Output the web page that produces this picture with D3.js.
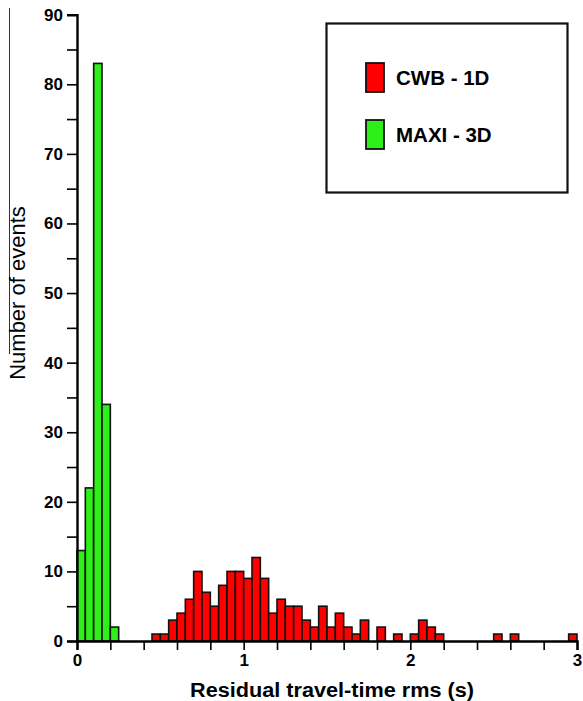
<!DOCTYPE html>
<html>
<head>
<meta charset="utf-8">
<script src="https://cdn.jsdelivr.net/npm/d3@7"></script>
<style>
  html, body { margin: 0; padding: 0; background: #fff; }
  svg { display: block; }
  text { font-family: "Liberation Sans", Arial, Helvetica, sans-serif; fill: #000; }
</style>
</head>
<body>
<svg id="chart" width="583" height="701"></svg>
<script>
// Histogram bin width (s)
const binWidth = 0.05;

// CWB - 1D relocation: left edge of each bin and its event count
const cwbBins   = [0.45, 0.50, 0.55, 0.60, 0.65, 0.70, 0.75, 0.80, 0.85, 0.90,
                   0.95, 1.00, 1.05, 1.10, 1.15, 1.20, 1.25, 1.30, 1.35, 1.40,
                   1.45, 1.50, 1.55, 1.60, 1.65, 1.70, 1.80, 1.90, 2.00, 2.05,
                   2.10, 2.15, 2.50, 2.60, 2.95];
const cwbCounts = [1, 1, 3, 4, 6, 10, 7, 5, 8, 10,
                   10, 9, 12, 9, 4, 6, 5, 5, 3, 2,
                   5, 2, 4, 2, 1, 3, 2, 1, 1, 3,
                   2, 1, 1, 1, 1];

// MAXI - 3D relocation
const maxiBins   = [0.00, 0.05, 0.10, 0.15, 0.20];
const maxiCounts = [13, 22, 83, 34, 2];

// Axis ticks
const xTicks = [0, 0.2, 0.4, 0.6, 0.8, 1, 1.2, 1.4, 1.6, 1.8, 2, 2.2, 2.4, 2.6, 2.8, 3];
const xTickLabels = [0, 1, 2, 3];
const yTicks = [0, 5, 10, 15, 20, 25, 30, 35, 40, 45, 50, 55, 60, 65, 70, 75, 80, 85, 90];
const yTickLabels = [0, 10, 20, 30, 40, 50, 60, 70, 80, 90];

const seriesNames = ["CWB - 1D", "MAXI - 3D"];
const seriesColors = ["#ff0000", "#2def1a"];

const svg = d3.select("#chart");

const x = d3.scaleLinear().domain([0, 3]).range([77, 577]);
const y = d3.scaleLinear().domain([0, 90]).range([641, 14.7]);

// thin frame edge at the far left
svg.append("line")
  .attr("x1", 9.5).attr("x2", 9.5).attr("y1", 8).attr("y2", 354)
  .attr("stroke", "#333").attr("stroke-width", 1);

function drawBars(bins, counts, color) {
  const data = bins.map((b, i) => ({ x0: b, n: counts[i] })).filter(d => d.n > 0);
  svg.append("g").selectAll("rect").data(data).join("rect")
    .attr("x", d => x(d.x0))
    .attr("y", d => y(d.n))
    .attr("width", d => x(d.x0 + binWidth) - x(d.x0))
    .attr("height", d => y(0) - y(d.n))
    .attr("fill", color)
    .attr("stroke", "#111")
    .attr("stroke-width", 1.6);
}

drawBars(maxiBins, maxiCounts, seriesColors[1]);
drawBars(cwbBins, cwbCounts, seriesColors[0]);

// X axis
const xAxis = d3.axisBottom(x)
  .tickValues(xTicks)
  .tickSize(9)
  .tickPadding(4)
  .tickFormat(d => xTickLabels.includes(d) ? d3.format("d")(d) : "");
const gx = svg.append("g").attr("transform", `translate(0,${y(0)})`).call(xAxis);
gx.select(".domain").attr("stroke", "#000").attr("stroke-width", 2.4);
gx.selectAll(".tick line").attr("stroke", "#000").attr("stroke-width", 1.6);
gx.selectAll(".tick text")
  .attr("font-size", 17).attr("font-weight", "bold")
  .style("font-family", "'Liberation Sans', Arial, sans-serif");

// Y axis
const yAxis = d3.axisLeft(y)
  .tickValues(yTicks)
  .tickSize(10)
  .tickPadding(4)
  .tickFormat(d => yTickLabels.includes(d) ? d3.format("d")(d) : "");
const gy = svg.append("g").attr("transform", `translate(${x(0)},0)`).call(yAxis);
gy.select(".domain").attr("stroke", "#000").attr("stroke-width", 2.4);
gy.selectAll(".tick line").attr("stroke", "#000").attr("stroke-width", 1.6);
gy.selectAll(".tick text")
  .attr("font-size", 17).attr("font-weight", "bold")
  .style("font-family", "'Liberation Sans', Arial, sans-serif");

// Axis titles
svg.append("text")
  .attr("x", 332).attr("y", 697)
  .attr("text-anchor", "middle")
  .attr("font-size", 20).attr("font-weight", "bold")
  .attr("textLength", 284).attr("lengthAdjust", "spacingAndGlyphs")
  .text("Residual travel-time rms (s)");

svg.append("text")
  .attr("transform", "translate(25,293) rotate(-90)")
  .attr("text-anchor", "middle")
  .attr("font-size", 22)
  .text("Number of events");

// Legend
const legend = svg.append("g");
legend.append("rect")
  .attr("x", 326.5).attr("y", 23.5).attr("width", 241).attr("height", 169)
  .attr("fill", "#fff").attr("stroke", "#111").attr("stroke-width", 2.2);

const legendRows = [{ y: 63, name: seriesNames[0], color: seriesColors[0] },
                    { y: 120, name: seriesNames[1], color: seriesColors[1] }];
legendRows.forEach(r => {
  legend.append("rect")
    .attr("x", 366).attr("y", r.y).attr("width", 18).attr("height", 29)
    .attr("fill", r.color).attr("stroke", "#111").attr("stroke-width", 1.8);
  legend.append("text")
    .attr("x", 396).attr("y", r.y + 21.5)
    .attr("font-size", 20.5).attr("font-weight", "bold")
    .text(r.name);
});
</script>
</body>
</html>
